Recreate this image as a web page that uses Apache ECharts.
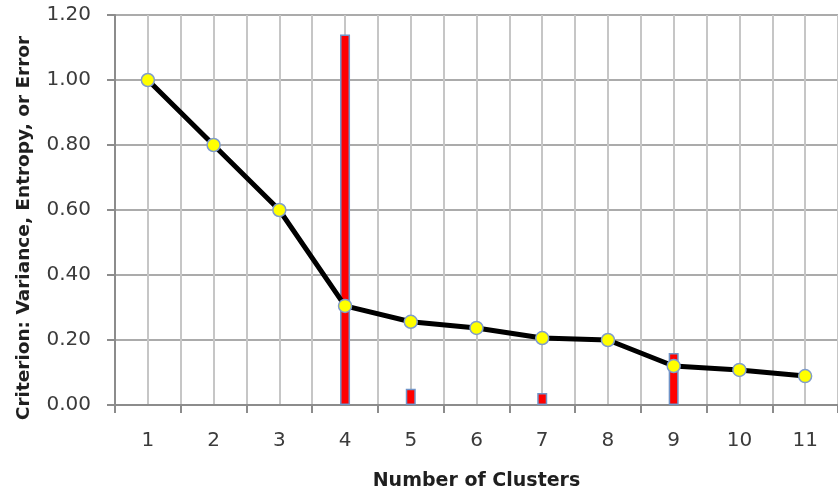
<!DOCTYPE html>
<html>
<head>
<meta charset="utf-8">
<script src="https://cdn.jsdelivr.net/npm/echarts@6/dist/echarts.min.js"></script>
<style>
  html, body { margin: 0; padding: 0; background: #ffffff; }
  #chart { width: 838px; height: 490px; }
</style>
</head>
<body>
<div id="chart"></div>
<script>
// Number of clusters on the x axis
const clusters = ['1', '2', '3', '4', '5', '6', '7', '8', '9', '10', '11'];
// Criterion value for each clustering (black line)
const criterion = [1.00, 0.80, 0.60, 0.305, 0.256, 0.237, 0.206, 0.200, 0.120, 0.108, 0.089];
// Drop in criterion marking candidate cluster counts (red bars)
const jumps = [null, null, null, 1.14, 0.05, null, 0.037, null, 0.16, null, null];
// Y axis ticks
const yMin = 0, yMax = 1.2, yStep = 0.2;

const chart = echarts.init(document.getElementById('chart'), null, { renderer: 'canvas' });

const tickText = { fontFamily: 'DejaVu Sans', fontSize: 20, color: '#3b3b3b' };
const titleText = { fontFamily: 'DejaVu Sans', fontSize: 19, fontWeight: 'bold', color: '#1f1f1f' };

chart.setOption({
  animation: false,
  backgroundColor: '#ffffff',
  grid: { left: 115, right: 0, top: 15, bottom: 85, containLabel: false, outerBoundsMode: 'none' },
  xAxis: [
    {
      type: 'category',
      data: clusters,
      boundaryGap: true,
      name: 'Number of Clusters',
      nameLocation: 'middle',
      nameGap: 67,
      nameTextStyle: titleText,
      axisLine: { show: true, lineStyle: { color: '#8c8c8c', width: 2 } },
      axisTick: { show: true, length: 8, lineStyle: { color: '#8c8c8c', width: 2 } },
      axisLabel: Object.assign({ margin: 26 }, tickText),
      splitLine: { show: false }
    },
    {
      // light vertical grid at every category centre and boundary
      type: 'value',
      position: 'top',
      min: 0.5,
      max: 11.5,
      interval: 0.5,
      axisLine: { show: false },
      axisTick: { show: false },
      axisLabel: { show: false },
      splitLine: { show: true, lineStyle: { color: '#c6c6c6', width: 2 } }
    }
  ],
  yAxis: {
    type: 'value',
    min: yMin,
    max: yMax,
    interval: yStep,
    name: 'Criterion: Variance, Entropy, or Error',
    nameLocation: 'middle',
    nameGap: 81,
    // trailing padding pushes the rotated title a little lower
    nameTextStyle: Object.assign({}, titleText, { fontSize: 18.5, padding: [0, 36, 0, 0] }),
    axisLine: { show: true, lineStyle: { color: '#8c8c8c', width: 2 } },
    axisTick: { show: true, length: 8, lineStyle: { color: '#8c8c8c', width: 2 } },
    axisLabel: Object.assign({ margin: 24, formatter: v => v.toFixed(2) }, tickText),
    splitLine: { show: true, lineStyle: { color: '#ababab', width: 2 } }
  },
  series: [
    {
      type: 'bar',
      xAxisIndex: 0,
      data: jumps,
      barWidth: 10,
      itemStyle: { color: '#ff0000', borderColor: '#7094c8', borderWidth: 1.5 },
      z: 2
    },
    {
      type: 'line',
      xAxisIndex: 0,
      data: criterion,
      symbol: 'circle',
      symbolSize: 13,
      lineStyle: { color: '#000000', width: 5 },
      itemStyle: { color: '#ffff00', borderColor: '#7f9ccc', borderWidth: 1.5 },
      z: 3
    }
  ]
});
</script>
</body>
</html>
